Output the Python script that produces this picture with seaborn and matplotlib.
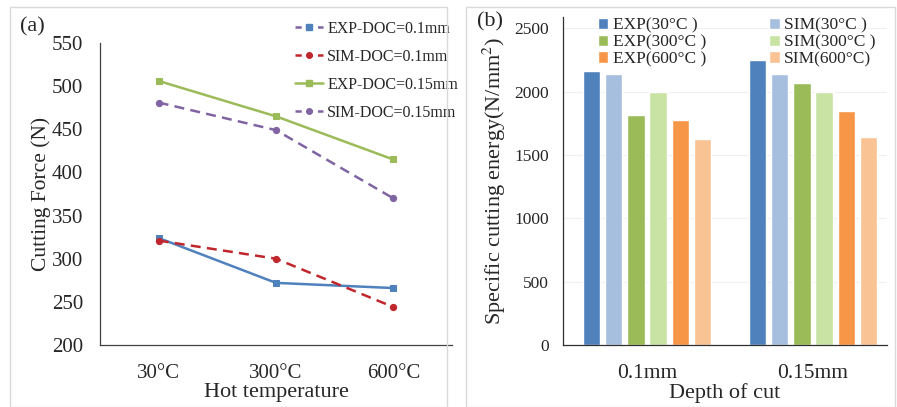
import numpy as np
import pandas as pd
import matplotlib
matplotlib.use("Agg")
import matplotlib.pyplot as plt
from matplotlib.lines import Line2D
from matplotlib.patches import Rectangle
import seaborn as sns

# (a) cutting force vs hot temperature
temps = ["30°C", "300°C", "600°C"]
exp_01 = [324, 272, 266]
sim_01 = [321, 300, 244]
exp_015 = [506, 465, 415]
sim_015 = [481, 449, 370]

# (b) specific cutting energy
depths = ["0.1mm", "0.15mm"]
bar_series = ["EXP(30°C )", "SIM(30°C )", "EXP(300°C )", "SIM(300°C )", "EXP(600°C )", "SIM(600°C)"]
energy_01 = [2160, 2140, 1820, 2000, 1780, 1630]
energy_015 = [2250, 2140, 2065, 1995, 1850, 1645]

sns.set_style("white")
plt.rcParams["font.family"] = ["Liberation Serif", "DejaVu Serif"]
plt.rcParams["mathtext.fontset"] = "stix"

fig = plt.figure(figsize=(8.97, 4.07), dpi=100)

# panel frames
for x0, x1 in [(10, 447), (466, 895)]:
    fig.patches.append(Rectangle((x0 / 897, 0), (x1 - x0) / 897, 400 / 407,
                                 transform=fig.transFigure, fill=False,
                                 edgecolor="#d9d9d9", linewidth=1.0))

# ---------------- (a) ----------------
ax1 = fig.add_axes([100 / 897, 62 / 407, 352 / 897, 302 / 407])
blue, red, green, purple = "#4F81BD", "#C0272D", "#9BBB59", "#8064A2"
sns.lineplot(x=temps, y=exp_01, ax=ax1, color=blue, lw=1.8, marker="s", ms=4.5, mec=blue, sort=False)
sns.lineplot(x=temps, y=sim_01, ax=ax1, color=red, lw=1.8, ls=(0, (4, 2.5)), marker="o", ms=4.5, mec=red, sort=False)
sns.lineplot(x=temps, y=exp_015, ax=ax1, color=green, lw=1.8, marker="s", ms=4.5, mec=green, sort=False)
sns.lineplot(x=temps, y=sim_015, ax=ax1, color=purple, lw=1.8, ls=(0, (4, 2.5)), marker="o", ms=4.5, mec=purple, sort=False)
ax1.set_xlim(-0.5, 2.5)
ax1.set_ylim(200, 550)
ax1.set_yticks(np.arange(200, 551, 50))
ax1.tick_params(axis="both", labelsize=15, length=0)
ax1.tick_params(axis="y", pad=12)
ax1.tick_params(axis="x", pad=14)
ax1.set_ylabel("Cutting Force (N)", fontsize=15.5, labelpad=1)
ax1.set_xlabel("Hot temperature", fontsize=16, labelpad=0)
for s in ["top", "right"]:
    ax1.spines[s].set_visible(False)
for s in ["left", "bottom"]:
    ax1.spines[s].set_color("#404040")
    ax1.spines[s].set_linewidth(0.9)

handles = [
    Line2D([], [], color=purple, ls=(0, (2.5, 2)), lw=1.8, marker="s", ms=4, mfc=blue, mec=blue),
    Line2D([], [], color=red, ls=(0, (2.5, 2)), lw=1.8, marker="o", ms=4, mfc=red, mec=red),
    Line2D([], [], color=green, lw=1.8, marker="s", ms=4, mfc=green, mec=green),
    Line2D([], [], color=purple, ls=(0, (2.5, 2)), lw=1.8, marker="o", ms=4, mfc=purple, mec=purple),
]
labels = ["EXP-DOC=0.1mm", "SIM-DOC=0.1mm", "EXP-DOC=0.15mm", "SIM-DOC=0.15mm"]
ax1.legend(handles, labels, loc="upper left", bbox_to_anchor=(189 / 352, 1.095),
           frameon=False, fontsize=11.5, handlelength=1.75, handletextpad=0.25,
           labelspacing=0.75, borderaxespad=0)
fig.text(20 / 897, 1 - 27 / 407, "(a)", fontsize=16, va="center")

# ---------------- (b) ----------------
ax2 = fig.add_axes([563 / 897, 62 / 407, 324 / 897, 328 / 407])
df = pd.DataFrame({
    "depth": np.repeat(depths, len(bar_series)),
    "series": bar_series * len(depths),
    "energy": energy_01 + energy_015,
})
bar_colors = ["#4F81BD", "#A7BFDF", "#9BBB59", "#C9E3A5", "#F79646", "#FAC393"]
sns.barplot(data=df, x="depth", y="energy", hue="series", hue_order=bar_series,
            palette=bar_colors, width=0.8, gap=0.22, ax=ax2, saturation=1, legend=True)
ax2.set_xlim(-0.506, 1.446)
ax2.set_ylim(0, 2590)
ax2.set_yticks(np.arange(0, 2501, 500))
ax2.yaxis.grid(True, color="#f0f0f0", lw=0.8)
ax2.set_axisbelow(True)
ax2.tick_params(axis="y", labelsize=12.5, length=0, pad=10)
ax2.tick_params(axis="x", labelsize=15.5, length=0, pad=14)
ax2.set_ylabel("Specific cutting energy(N/mm$^{2}$)", fontsize=16, labelpad=5)
ax2.set_xlabel("Depth of cut", fontsize=16, labelpad=0)
for s in ["top", "right"]:
    ax2.spines[s].set_visible(False)
for s in ["left", "bottom"]:
    ax2.spines[s].set_color("#303030")
    ax2.spines[s].set_linewidth(0.9)

h, l = ax2.get_legend_handles_labels()
order = [0, 2, 4, 1, 3, 5]
ax2.legend([h[i] for i in order], [l[i] for i in order], ncol=2,
           loc="upper left", bbox_to_anchor=(28 / 324, 1.02), frameon=False,
           fontsize=12.5, handlelength=0.6, handleheight=0.6, handletextpad=0.25,
           labelspacing=0.05, columnspacing=3.65, borderaxespad=0)
fig.text(477 / 897, 1 - 22 / 407, "(b)", fontsize=16, va="center")

fig.savefig("out.png", dpi=100)
